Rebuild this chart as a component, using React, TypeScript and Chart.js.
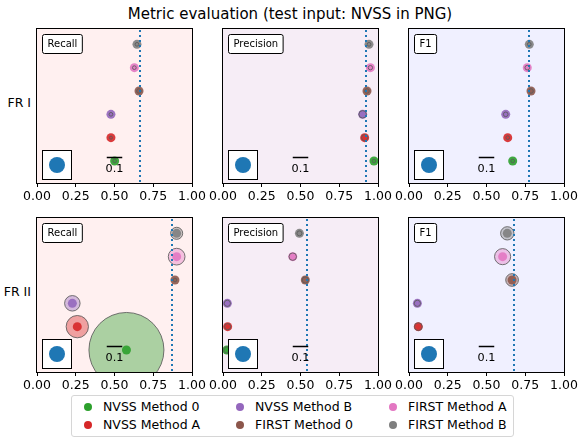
import React, { useEffect, useRef } from 'react';
import { Chart, registerables } from 'chart.js';
Chart.register(...registerables);

const FONT = '"DejaVu Sans", sans-serif';

// ---- data ----
const methods = ['NVSS Method 0', 'NVSS Method A', 'NVSS Method B', 'FIRST Method 0', 'FIRST Method A', 'FIRST Method B'];
const methodRows = [0, 1, 2, 3, 4, 5];
const methodColors = ['#2ca02c', '#d62728', '#9467bd', '#8c564b', '#e377c2', '#7f7f7f'];
const xTicks = [0, 0.25, 0.5, 0.75, 1.0];
const xTickLabels = ['0.00', '0.25', '0.50', '0.75', '1.00'];
const metricNames = ['Recall', 'Precision', 'F1'];
const metricBackgrounds = ['#fff0f0', '#f6edf6', '#f0f0ff'];
const sourceLabels = ['FR I', 'FR II'];

const frIRecall = [0.501, 0.477, 0.477, 0.658, 0.628, 0.645];
const frIRecallSpread = [0.012, 0.01, 0.012, 0.015, 0.012, 0.012];
const frIPrecision = [0.974, 0.914, 0.901, 0.929, 0.951, 0.942];
const frIPrecisionSpread = [0.012, 0.02, 0.024, 0.015, 0.014, 0.012];
const frIF1 = [0.669, 0.637, 0.624, 0.787, 0.763, 0.776];
const frIF1Spread = [0.012, 0.012, 0.015, 0.015, 0.015, 0.012];
const frIReference = [0.667, 0.921, 0.774];

const frIIRecall = [0.577, 0.26, 0.228, 0.89, 0.901, 0.901];
const frIIRecallSpread = [0.242, 0.072, 0.05, 0.012, 0.054, 0.039];
const frIIPrecision = [0.025, 0.03, 0.028, 0.531, 0.45, 0.493];
const frIIPrecisionSpread = [0.02, 0.02, 0.02, 0.02, 0.024, 0.016];
const frIIF1 = [0.075, 0.06, 0.054, 0.665, 0.604, 0.634];
const frIIF1Spread = [0.02, 0.025, 0.02, 0.041, 0.052, 0.043];
const frIIReference = [0.871, 0.54, 0.677];

const scaleBarValue = 0.1;
const scaleBarLabel = '0.1';
const scaleBarCenter = 0.5;

// ---- layout ----
const colLefts = [37, 223, 409];
const rowTops = [29, 218];
const PANEL_W = 155;
const PANEL_H = 154;
const PAD_L = 18, PAD_R = 18, PAD_T = 5, AXIS_H = 26;
const Y_MIN = -0.944, Y_MAX = 5.657;

function withAlpha(hex: string, a: number) {
  const n = parseInt(hex.slice(1), 16);
  return `rgba(${(n >> 16) & 255},${(n >> 8) & 255},${n & 255},${a})`;
}

function roundRect(ctx: CanvasRenderingContext2D, x: number, y: number, w: number, h: number, r: number) {
  ctx.beginPath();
  ctx.moveTo(x + r, y);
  ctx.lineTo(x + w - r, y);
  ctx.arcTo(x + w, y, x + w, y + r, r);
  ctx.lineTo(x + w, y + h - r);
  ctx.arcTo(x + w, y + h, x + w - r, y + h, r);
  ctx.lineTo(x + r, y + h);
  ctx.arcTo(x, y + h, x, y + h - r, r);
  ctx.lineTo(x, y + r);
  ctx.arcTo(x, y, x + r, y, r);
  ctx.closePath();
}

type PanelProps = {
  row: number; col: number; values: number[]; spreads: number[]; reference: number;
};

function Panel({ row, col, values, spreads, reference }: PanelProps) {
  const ref = useRef<HTMLCanvasElement>(null);
  const metric = metricNames[col];
  const bg = metricBackgrounds[col];
  useEffect(() => {
    const deco = {
      id: 'deco',
      beforeDatasetsDraw(chart: any) {
        const { ctx, chartArea: a } = chart;
        ctx.save();
        ctx.fillStyle = bg;
        ctx.fillRect(a.left, a.top, a.right - a.left, a.bottom - a.top);
        ctx.restore();
      },
      afterDatasetsDraw(chart: any) {
        const { ctx, chartArea: a, scales } = chart;
        const x = scales.x;
        ctx.save();
        ctx.beginPath();
        ctx.rect(a.left, a.top, a.right - a.left, a.bottom - a.top);
        ctx.clip();
        // reference dotted line
        const px = Math.round(x.getPixelForValue(reference));
        ctx.beginPath();
        ctx.setLineDash([2, 3]);
        ctx.strokeStyle = '#1f77b4';
        ctx.lineWidth = 2;
        ctx.moveTo(px, a.top + 1);
        ctx.lineTo(px, a.bottom);
        ctx.stroke();
        ctx.setLineDash([]);
        // scale bar
        const x0 = x.getPixelForValue(scaleBarCenter - scaleBarValue / 2);
        const x1 = x.getPixelForValue(scaleBarCenter + scaleBarValue / 2);
        const yb = a.bottom - 25.5;
        ctx.beginPath();
        ctx.strokeStyle = '#000';
        ctx.lineWidth = 1.5;
        ctx.moveTo(x0, yb);
        ctx.lineTo(x1, yb);
        ctx.stroke();
        ctx.fillStyle = '#000';
        ctx.font = `11.25px ${FONT}`;
        ctx.textAlign = 'center';
        ctx.textBaseline = 'middle';
        ctx.fillText(scaleBarLabel, x.getPixelForValue(scaleBarCenter), a.bottom - 13.5);
        // inset reference box
        const bx = Math.round(a.left + 5) + 0.5;
        const by = Math.round(a.bottom - 33) + 0.5;
        ctx.fillStyle = '#fff';
        ctx.fillRect(bx, by, 29, 29);
        ctx.strokeStyle = '#000';
        ctx.lineWidth = 1;
        ctx.strokeRect(bx, by, 29, 29);
        ctx.beginPath();
        ctx.fillStyle = '#1f77b4';
        ctx.arc(bx + 14.5, by + 14.5, 8, 0, Math.PI * 2);
        ctx.fill();
        // metric label box
        ctx.font = `10px ${FONT}`;
        const tw = ctx.measureText(metric).width;
        const lx = Math.round(a.left + 5) + 0.5;
        const ly = Math.round(a.top + 5) + 0.5;
        roundRect(ctx, lx, ly, tw + 10, 19, 2);
        ctx.fillStyle = '#fff';
        ctx.fill();
        ctx.strokeStyle = '#000';
        ctx.lineWidth = 1;
        ctx.stroke();
        ctx.fillStyle = '#000';
        ctx.textAlign = 'left';
        ctx.textBaseline = 'middle';
        ctx.fillText(metric, lx + 5, ly + 10);
        ctx.restore();
        // frame
        ctx.save();
        ctx.strokeStyle = '#000';
        ctx.lineWidth = 1;
        ctx.strokeRect(Math.round(a.left) - 0.5, Math.round(a.top) - 0.5, Math.round(a.right - a.left) + 1, Math.round(a.bottom - a.top) + 1);
        ctx.restore();
      },
    };

    const pts = values.map((v, i) => ({ x: v, y: methodRows[i], r: spreads[i] }));
    const chart = new Chart(ref.current as HTMLCanvasElement, {
      type: 'scatter',
      data: {
        datasets: [
          {
            label: 'spread',
            data: pts,
            backgroundColor: methodColors.map((c) => withAlpha(c, 0.4)),
            borderColor: 'rgba(90,90,90,0.85)',
            borderWidth: 1,
            pointRadius: (ctx: any) => {
              const s = ctx.chart.scales.x;
              const raw = ctx.raw;
              if (!raw) return 0;
              return Math.abs(s.getPixelForValue(raw.r) - s.getPixelForValue(0));
            },
            clip: 0,
          } as any,
          {
            label: 'value',
            data: pts.map((p) => ({ x: p.x, y: p.y })),
            backgroundColor: methodColors.map((c) => withAlpha(c, 0.9)),
            borderWidth: 0,
            pointRadius: 4.5,
            clip: 0,
          } as any,
        ],
      },
      options: {
        animation: false,
        responsive: false,
        maintainAspectRatio: false,
        events: [],
        layout: { padding: { left: PAD_L, right: PAD_R, top: PAD_T, bottom: 0 } },
        plugins: { legend: { display: false }, tooltip: { enabled: false }, title: { display: false } },
        scales: {
          x: {
            type: 'linear',
            min: 0,
            max: 1,
            afterBuildTicks: (s: any) => {
              s.ticks = xTicks.map((v) => ({ value: v }));
            },
            afterFit: (s: any) => {
              s.height = AXIS_H;
            },
            grid: { display: true, drawOnChartArea: false, drawTicks: true, tickLength: 4, color: '#000', lineWidth: 1 },
            border: { display: false },
            ticks: {
              autoSkip: false,
              maxRotation: 0,
              padding: 2,
              color: '#000',
              font: { family: FONT, size: 12.5 },
              callback: (_v: any, i: number) => xTickLabels[i],
            },
          },
          y: { type: 'linear', min: Y_MIN, max: Y_MAX, display: false },
        },
      },
      plugins: [deco],
    } as any);
    return () => chart.destroy();
  }, []);

  const w = PANEL_W + PAD_L + PAD_R;
  const h = PAD_T + PANEL_H + AXIS_H;
  return (
    <canvas
      ref={ref}
      width={w}
      height={h}
      style={{ position: 'absolute', left: colLefts[col] - PAD_L, top: rowTops[row] - PAD_T, width: w, height: h }}
    />
  );
}

const panelData = [
  [
    { values: frIRecall, spreads: frIRecallSpread, reference: frIReference[0] },
    { values: frIPrecision, spreads: frIPrecisionSpread, reference: frIReference[1] },
    { values: frIF1, spreads: frIF1Spread, reference: frIReference[2] },
  ],
  [
    { values: frIIRecall, spreads: frIIRecallSpread, reference: frIIReference[0] },
    { values: frIIPrecision, spreads: frIIPrecisionSpread, reference: frIIReference[1] },
    { values: frIIF1, spreads: frIIF1Spread, reference: frIIReference[2] },
  ],
];

const legendOrder = [0, 1, 2, 3, 4, 5];

export default function App() {
  const rowSpacing = PANEL_H / (Y_MAX - Y_MIN);
  return (
    <div style={{ position: 'fixed', left: 0, top: 0, width: 580, height: 441, background: '#fff', fontFamily: FONT, color: '#000', overflow: 'hidden' }}>
      <div style={{ position: 'absolute', left: 0, top: 5, width: 580, textAlign: 'center', fontSize: 15, lineHeight: '18px' }}>
        Metric evaluation (test input: NVSS in PNG)
      </div>
      {sourceLabels.map((lab, r) => (
        <div key={lab} style={{ position: 'absolute', left: 0, width: 31, textAlign: 'right', whiteSpace: 'nowrap', fontSize: 12.5, lineHeight: '16px', top: rowTops[r] + (Y_MAX - 2.5) * rowSpacing - 8 }}>
          {lab}
        </div>
      ))}
      {panelData.map((rowArr, r) =>
        rowArr.map((p, c) => <Panel key={`${r}-${c}`} row={r} col={c} values={p.values} spreads={p.spreads} reference={p.reference} />)
      )}
      <div style={{ position: 'absolute', left: 71, top: 395, width: 443, height: 42, border: '1px solid #d6d6d6', borderRadius: 3, background: '#fff', boxSizing: 'border-box' }} />
      {legendOrder.map((mi, k) => {
        const col = Math.floor(k / 2);
        const rw = k % 2;
        const mx = [88, 240, 393][col];
        const tx = [103, 255, 408][col];
        const cy = [407, 425][rw];
        return (
          <React.Fragment key={mi}>
            <div style={{ position: 'absolute', left: mx - 4, top: cy - 4, width: 8, height: 8, borderRadius: '50%', background: methodColors[mi] }} />
            <div style={{ position: 'absolute', left: tx, top: cy - 8, fontSize: 12.5, lineHeight: '16px', whiteSpace: 'nowrap' }}>{methods[mi]}</div>
          </React.Fragment>
        );
      })}
    </div>
  );
}
